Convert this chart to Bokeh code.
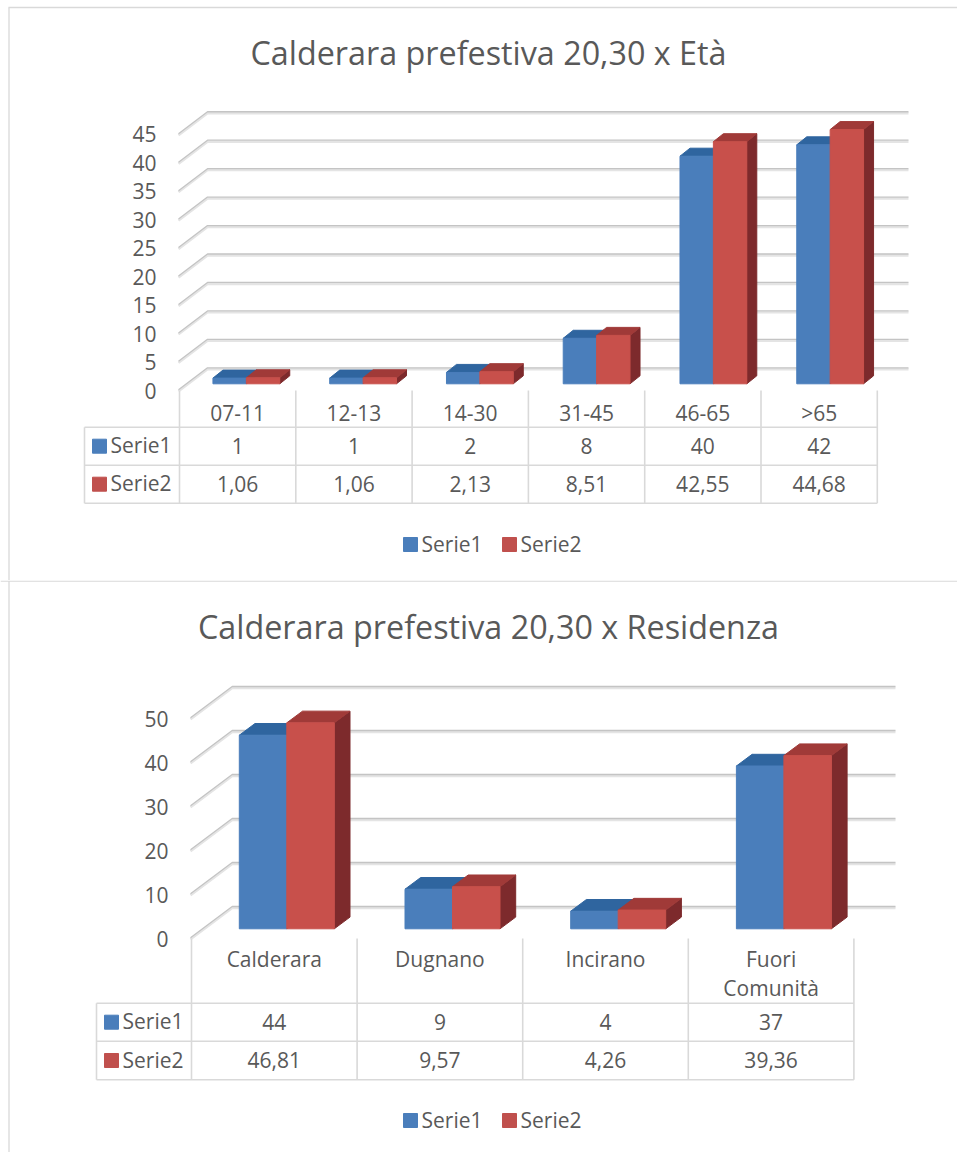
from bokeh.core.properties import value
from bokeh.embed import file_html
from bokeh.layouts import column
from bokeh.models import FixedTicker, Range1d
from bokeh.plotting import figure
from bokeh.resources import INLINE

series_names = ["Serie1", "Serie2"]

title_eta = "Calderara prefestiva 20,30 x Età"
cats_eta = ["07-11", "12-13", "14-30", "31-45", "46-65", ">65"]
serie1_eta = [1, 1, 2, 8, 40, 42]
serie2_eta = [1.06, 1.06, 2.13, 8.51, 42.55, 44.68]
ticks_eta = [0, 5, 10, 15, 20, 25, 30, 35, 40, 45]

title_res = "Calderara prefestiva 20,30 x Residenza"
cats_res = ["Calderara", "Dugnano", "Incirano", "Fuori\nComunità"]
serie1_res = [44, 9, 4, 37]
serie2_res = [46.81, 9.57, 4.26, 39.36]
ticks_res = [0, 10, 20, 30, 40, 50]

FONT = "Open Sans"
TXT = "#595959"
LINE = "#d9d9d9"
BLUE, BLUE_TOP = "#4a7ebb", "#2f659f"
RED, RED_TOP, RED_SIDE = "#c8504b", "#a03a38", "#7d2a2c"


def fmt(v):
    return f"{v:.2f}".replace(".", ",") if isinstance(v, float) else str(v)


def chart(title, cats, s1, s2, ticks, g):
    X = lambda px: (px - g["col0"]) / g["colw"]
    Y = lambda py: (g["y0"] - py) / g["unit"]
    DX = lambda px: px / g["colw"]
    DY = lambda px: px / g["unit"]
    p = figure(width=957, height=g["bot"] - g["top"], toolbar_location=None,
               output_backend="svg", min_border=0,
               x_range=Range1d(X(0), X(957)), y_range=Range1d(Y(g["bot"]), Y(g["top"])))
    p.outline_line_color = None
    p.grid.visible = False
    n = len(cats)

    # frame of the chart area
    p.line([X(8.5), X(8.5)], [Y(g["frame_top"]), Y(g["bot"])], line_color=LINE, line_width=1.3)
    p.line([X(g["frame_left"]), X(957)], [Y(g["frame_top"])] * 2, line_color=LINE, line_width=1.3)

    # 3D gridlines: diagonal from the front edge, then along the back wall
    for off, col, w in ((0.8, "#e4e4e4", 2.4), (-0.7, "#c4c4c4", 1.3)):
        xs, ys = [], []
        for t in ticks:
            front = Y(g["y0"]) + t
            xs.append([X(g["ax"]), X(g["ax"] + g["wall_dx"]), X(g["grid_end"])])
            ys.append([front - DY(off), front + DY(g["wall_dy"] - off), front + DY(g["wall_dy"] - off)])
        p.multi_line(xs, ys, line_color=col, line_width=w)

    # bars
    bw, ddx, ddy = DX(g["bar_w"]), DX(g["depth_dx"]), DY(g["depth_dy"])
    base = Y(g["bar_base"])
    for k, (vals, front, top, side) in enumerate(((s1, BLUE, BLUE_TOP, BLUE_TOP), (s2, RED, RED_TOP, RED_SIDE))):
        for i, v in enumerate(vals):
            x0 = i + .5 + DX(g["bar_off"] + g["bar_slope"] * i) - bw + k * bw
            x1 = x0 + bw
            h = base + v
            p.patch([x1, x1 + ddx, x1 + ddx, x1], [base, base + ddy, h + ddy, h], color=side)
            p.patch([x0, x1, x1 + ddx, x0 + ddx], [h, h, h + ddy, h + ddy], color=top)
            p.patch([x0, x1, x1, x0], [base, base, h, h], color=front)

    # axes
    p.yaxis.fixed_location = X(g["ax"])
    p.yaxis.ticker = FixedTicker(ticks=ticks)
    p.xaxis.fixed_location = Y(g["y0"])
    p.xaxis.ticker = FixedTicker(ticks=[i + .5 for i in range(n)])
    p.xaxis.major_label_overrides = {i + .5: c for i, c in enumerate(cats)}
    for ax in (p.xaxis, p.yaxis):
        ax.axis_line_color = None
        ax.major_tick_line_color = None
        ax.minor_tick_line_color = None
        ax.major_label_text_font = FONT
        ax.major_label_text_font_size = "21px"
        ax.major_label_text_color = TXT
    p.yaxis.major_label_standoff = 16
    p.xaxis.major_label_standoff = g["xstand"]
    p.xaxis.major_label_text_line_height = 1.04

    # data table lines
    rows = g["rows"]
    xl, xr = X(g["tbl_left"]), n
    p.multi_line([[i, i] for i in range(n + 1)], [[Y(g["y0"]), Y(rows[-1])]] * (n + 1),
                 line_color=LINE, line_width=1.6)
    p.multi_line([[xl, xl]], [[Y(rows[0]), Y(rows[-1])]], line_color=LINE, line_width=1.6)
    p.multi_line([[xl, xr]] * len(rows), [[Y(r), Y(r)] for r in rows], line_color=LINE, line_width=1.6)

    common = dict(text_font=value(FONT), text_font_size="21px", text_color=TXT, text_baseline="middle")
    for k, (vals, col) in enumerate(((s1, BLUE), (s2, "#c0504d"))):
        cy = (rows[k] + rows[k + 1]) / 2
        p.quad(left=[X(g["key_x"])], right=[X(g["key_x"] + 14)], top=[Y(cy - 7)], bottom=[Y(cy + 7)], color=col)
        p.text([X(g["key_x"] + 18)], [Y(cy - 1)], text=[series_names[k]], text_align="left", **common)
        p.text([i + .5 for i in range(n)], [Y(cy - .5)] * n, text=[fmt(v) for v in vals], text_align="center", **common)

    # legend
    ly = g["legend_y"]
    for k, (col, lx) in enumerate(((BLUE, 403), ("#c0504d", 502))):
        p.quad(left=[X(lx)], right=[X(lx + 14)], top=[Y(ly - 7)], bottom=[Y(ly + 7)], color=col)
        p.text([X(lx + 18)], [Y(ly - 1)], text=[series_names[k]], text_align="left", **common)

    # title
    p.text([X(488)], [Y(g["title_y"])], text=[title], text_align="center", text_baseline="middle",
           text_font=value(FONT), text_font_size="32.3px", text_color=TXT)
    return p


geo_eta = dict(top=0, bot=580, frame_top=7, frame_left=8, col0=179, colw=116.3, y0=390, unit=5.69, ax=178, wall_dx=29,
               wall_dy=22, grid_end=908, bar_base=383.3, bar_w=33.4, depth_dx=10, depth_dy=8, bar_off=8.7, bar_slope=0.46,
               xstand=2, rows=[426.7, 464.7, 502.7], tbl_left=84, key_x=92, legend_y=544, title_y=51.5)
geo_res = dict(top=580, bot=1152, frame_top=580.6, frame_left=0, col0=191, colw=165.6, y0=938, unit=4.4, ax=190,
               wall_dx=41.7, wall_dy=31.3, grid_end=895, bar_base=928.3, bar_w=47.5, depth_dx=15.7, depth_dy=11.7,
               bar_off=12.5, bar_slope=0.1, xstand=0, rows=[1002.7, 1040.7, 1079.3], tbl_left=96, key_x=104, legend_y=1120,
               title_y=625.5)

p1 = chart(title_eta, cats_eta, serie1_eta, serie2_eta, ticks_eta, geo_eta)
p2 = chart(title_res, cats_res, serie1_res, serie2_res, ticks_res, geo_res)
page = column(p1, p2, spacing=0)
open("out.html", "w").write(file_html(page, INLINE))
